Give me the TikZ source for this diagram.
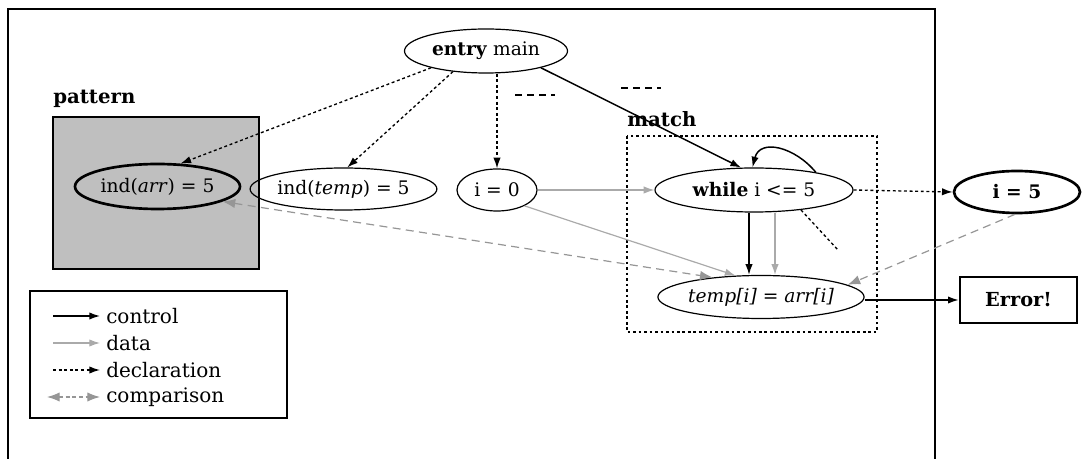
\documentclass[tikz,border=0pt]{standalone}
\usepackage{fontspec}
\setmainfont{DejaVu Serif}
\usetikzlibrary{shapes.geometric,arrows.meta}
\definecolor{datagray}{RGB}{170,170,170}
\definecolor{cmpgray}{RGB}{150,150,150}
\definecolor{boxgray}{RGB}{191,191,191}
\newcommand{\nodefont}{\fontsize{14}{16}\selectfont}
\newcommand{\labelfont}{\fontsize{14.8}{17}\selectfont\bfseries}
\newcommand{\legendfont}{\fontsize{15}{17}\selectfont}
\tikzset{comptip/.tip={Latex[length=9.5pt,width=7pt]}}
\begin{document}
\begin{tikzpicture}[x=0.75pt,y=-0.75pt,
  every node/.style={font=\nodefont},
  oval/.style 2 args={draw,ellipse,inner sep=0pt,line width=0.9pt,
    minimum width=#1*0.75pt,minimum height=#2*0.75pt},
  heavy/.style={line width=2pt},
  control/.style={-{Latex[length=8pt,width=5.5pt]},line width=1.1pt},
  dataflow/.style={-{Latex[length=8pt,width=5.5pt]},draw=datagray,line width=0.9pt},
  declline/.style={dash pattern=on 2.2pt off 2pt,line width=1pt},
  decl/.style={declline,-{Latex[length=8pt,width=5.5pt]}},
  compare/.style={draw=cmpgray,dash pattern=on 6pt off 4pt,line width=0.9pt},
]
\useasboundingbox (0,0) rectangle (1089,459);

% outer frame, open at the bottom
\draw[line width=1.2pt] (8,459) -- (8,9) -- (935,9) -- (935,459);

% pattern region
\node[anchor=west,font=\labelfont,inner sep=0pt] (patlabel) at (53,99) {pattern};
\draw[fill=boxgray,line width=0.9pt] (53,117) rectangle (259,269);

% match region
\node[anchor=west,font=\labelfont,inner sep=0pt] (matchlabel) at (627,119) {match};
\draw[line width=2pt,dash pattern=on 2pt off 2.1pt] (627,136) rectangle (877,332);

% stray dashes
\draw[line width=0.9pt,dash pattern=on 5pt off 4pt] (515,95) -- (555,95);
\draw[line width=0.9pt,dash pattern=on 5pt off 4pt] (621,88) -- (661,88);

% nodes
\node[oval={163}{44}] (entry) at (486,51) {\textbf{entry} main};
\node[oval={165}{45},heavy] (indarr) at (157.5,186.5) {ind(\textit{arr}) = 5};
\node[oval={163}{42}] (indtemp) at (343.5,189) {ind(\textit{temp}) = 5};
\node[oval={80}{42}] (izero) at (497,190) {i = 0};
\node[oval={198}{44}] (while) at (754,190) {\textbf{while} i <= 5};
\node[oval={126}{42},heavy] (ifive) at (1017,192) {\textbf{i = 5}};
\node[oval={163}{43}] (tmp) at (761,297) {\textit{temp[i]} = \textit{arr[i]}};
\node[draw,heavy,rectangle,inner sep=0pt,minimum width=117*0.75pt,minimum height=46*0.75pt,
  font=\fontsize{14.5}{17}\selectfont\bfseries] (err) at (1018.5,300) {Error!};

% declaration edges
\draw[decl] (entry.197) -- (indarr.45);
\draw[decl] (entry.212) -- (indtemp.80);
\draw[decl] (entry.south -| izero.north) -- (izero.north);
\draw[decl] (while.east) -- (ifive.west);
\coordinate (stubend) at (838,250);
\draw[declline] (while.-23) -- (stubend);

% control edges
\draw[control] (entry.-17) -- (while.120);
\draw[control] (while.16) .. controls (795,147) and (760,138) .. (while.94);
\draw[control] ([xshift=-5*0.75pt]while.south) -- ([xshift=-12*0.75pt]tmp.north);
\draw[control] (err.west -| tmp.east) -- (err.west);

% data edges
\draw[dataflow] (izero.east) -- (while.west);
\draw[dataflow] (izero.-30) -- (tmp.140);
\draw[dataflow] ([xshift=21*0.75pt]while.south) -- ([xshift=14*0.75pt]tmp.north);

% comparison edges
\draw[compare,{comptip}-{comptip}] (indarr.-13) -- (tmp.158);
\draw[compare,-{comptip}] (ifive.265) -- (tmp.8);

% legend
\draw[line width=0.9pt] (30,291) rectangle (287,418);
\coordinate (lc1) at (53,316);  \coordinate (lc2) at (100,316);
\coordinate (ld1) at (53,343);  \coordinate (ld2) at (100,343);
\coordinate (le1) at (53,370);  \coordinate (le2) at (100,370);
\coordinate (lf1) at (47,397);  \coordinate (lf2) at (100,397);
\draw[control] (lc1) -- (lc2);
\draw[dataflow] (ld1) -- (ld2);
\draw[decl] (le1) -- (le2);
\draw[compare,dash pattern=on 3pt off 2pt,{comptip}-{comptip}] (lf1) -- (lf2);
\node[anchor=west,font=\legendfont,inner sep=0pt] (tc) at (106,316) {control};
\node[anchor=west,font=\legendfont,inner sep=0pt] (td) at (106,343) {data};
\node[anchor=west,font=\legendfont,inner sep=0pt] (te) at (106,370) {declaration};
\node[anchor=west,font=\legendfont,inner sep=0pt] (tf) at (106,397) {comparison};
\end{tikzpicture}
\end{document}
